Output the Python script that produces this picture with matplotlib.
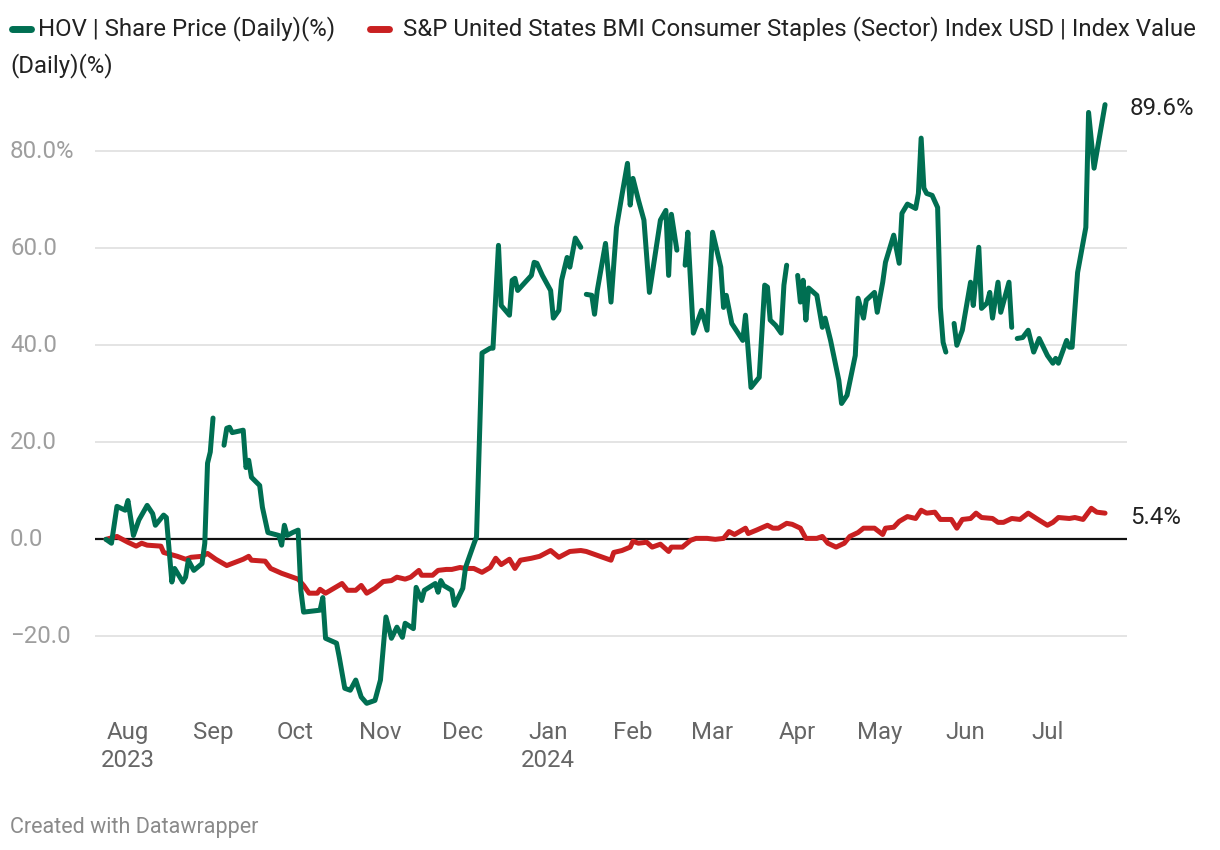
import numpy as np
import pandas as pd
import matplotlib
matplotlib.use("Agg")
import matplotlib.pyplot as plt
import matplotlib.transforms as mtransforms

plt.rcParams["font.family"] = ["Roboto", "DejaVu Sans"]

# Day offsets from 2023-08-01 and % change (nan = gap in the series)
hov_days = [-8, -6, -4, -1, 0, 2, 4, 7, 9, 10, 13, 14, 16, 17, 20, 21, 22, 24, 27, 28, 29, 30, 31,
            32, 35, 36, 37, 38, 42, 43, 44, 45, 48, 49, 51, 55, 56, 57, 58, 60, 62, 63, 64, 70, 71,
            72, 76, 77, 79, 81, 83, 85, 87, 90, 92, 94, 96, 98, 100, 101, 104, 105, 107, 108, 112,
            113, 114, 115, 118, 119, 122, 123, 126, 127, 129, 132, 133, 135, 136, 139, 140, 141, 142,
            147, 148, 149, 151, 154, 155, 157, 158, 160, 161, 163, 165,
            166, 167, 169, 170, 171, 174, 176, 178, 180, 182, 183, 184, 186, 188, 190, 194, 196, 197,
            198, 200,
            201, 203, 204, 206, 209, 211, 213, 216, 217, 218, 220, 224, 225, 227, 230, 232, 233, 234,
            236, 238, 239, 240,
            242, 244, 245, 246, 247, 248, 251, 253, 254, 256, 259, 260, 262, 265, 266, 268, 269, 272,
            273, 275, 276, 279, 281, 282, 284, 287, 288, 289, 290, 291, 293, 295, 296, 297, 298,
            299, 301, 302, 304, 307, 308, 310, 311, 313, 314, 315, 317, 318, 321, 322,
            323, 324, 326, 328, 330, 332, 335, 337, 338, 339, 342, 343, 344, 346, 349, 350, 352, 356]
hov_pct = [0.0, -0.8, 6.8, 6.0, 8.0, 0.8, 4.0, 7.0, 5.3, 2.9, 5.0, 4.5, -8.8, -6.0, -8.8, -7.8, -4.3,
           -6.4, -5.0, -0.8, 15.7, 18.0, 25.0,
           np.nan, 19.4, 22.9, 23.1, 22.0, 22.5, 14.8, 16.3, 12.8, 11.1, 6.6, 1.4, 0.8, -1.2, 2.9,
           0.8, 1.4, 1.9, -10.5, -15.0, -14.6, -12.0,
           -20.4, -21.4, -24.3, -30.7, -31.1, -29.0, -32.5, -33.8, -33.2, -29.0, -16.0, -20.4, -18.1,
           -20.2, -17.3, -18.4, -9.9, -12.6, -10.5, -9.1,
           -10.9, -8.5, -9.5, -10.5, -13.6, -10.1, -5.8, -1.0, 0.5, 38.4, 39.4, 39.4, 60.6, 48.2,
           46.2, 53.4, 53.8, 51.3,
           54.4, 57.1, 56.9, 54.4, 51.3, 45.6, 47.2, 53.4, 58.1, 56.1, 62.1, 60.2,
           np.nan, 50.5, 50.3, 46.4, 51.3, 61.0, 48.9, 64.3, 71.0, 77.5, 68.9, 74.4, 69.9, 65.8,
           50.9, 65.8, 67.8, 54.4,
           67.0, 59.6,
           np.nan, 56.5, 63.3, 42.5, 47.2, 43.1, 63.3, 56.1, 47.8, 50.3, 44.5, 41.0, 46.2, 31.3,
           33.4, 52.4, 52.0, 45.2,
           44.1, 42.5, 52.4, 56.5,
           np.nan, 54.4, 48.9, 53.4, 45.2, 51.8, 50.3, 43.7, 45.6, 41.0, 32.8, 28.0, 29.7, 37.9,
           49.7, 45.6, 49.3, 50.9,
           46.8, 53.0, 57.1, 62.7, 56.9, 67.2, 69.1, 68.2, 71.3, 82.7, 72.4, 71.3, 70.9, 68.4, 47.8,
           40.6, 38.6,
           np.nan, 44.5, 40.0, 43.1, 53.0, 48.2, 60.2, 47.6, 48.7, 50.9, 45.6, 53.0, 46.8, 53.0, 43.7,
           np.nan, 41.4, 41.6, 43.1, 38.6, 41.4, 37.9, 36.3, 37.3, 36.3, 41.0, 39.6, 39.6, 55.0,
           64.3, 88.0, 76.5, 89.6]

sp_days = [-8, -4, 0, 3, 5, 7, 12, 13, 18, 21, 23, 27, 29, 32, 36, 42, 44, 45, 50, 52, 56, 58, 62,
           64, 66, 69, 70, 72, 75, 78, 80, 83, 85, 87, 90, 93, 96, 98, 101, 103, 106, 107, 111, 113,
           116, 118, 121, 123, 126, 129, 132, 134, 136, 139, 141, 143, 147, 150, 154, 157, 161, 165,
           167, 171, 174, 176, 177, 180, 183, 184, 186, 189, 191, 194, 197, 198, 202, 205, 207, 211,
           214, 217, 219, 221, 225, 226, 229, 233, 235, 237, 240, 242, 245, 247, 251, 253, 255, 258,
           261, 263, 266, 268, 272, 275, 276, 279, 281, 284, 287, 289, 291, 294, 296, 300, 302, 304,
           307, 309, 311, 315, 317, 319, 322, 325, 328, 331, 335, 337, 339, 343, 345, 348, 351, 353,
           356]
sp_pct = [0.0, 0.6, -0.6, -1.4, -0.8, -1.2, -1.4, -2.7, -3.5, -4.1, -3.7, -3.5, -2.9, -4.1, -5.4,
          -4.1, -3.5, -4.3, -4.5, -6.0, -7.0, -7.4, -8.2, -9.5, -11.1, -11.1, -10.3, -11.1, -10.1,
          -9.1, -10.5, -10.5, -9.5, -11.1, -10.1, -8.7, -8.5, -7.8, -8.2, -7.8, -6.4, -7.4, -7.4,
          -6.4, -6.2, -6.2, -5.8, -6.0, -6.0, -6.8, -5.8, -3.9, -5.2, -4.1, -6.0, -4.3, -3.9, -3.5,
          -2.3, -3.7, -2.5, -2.3, -2.5, -3.3, -3.9, -4.3, -2.7, -2.3, -1.6, -0.4, -0.8, -0.6, -1.6,
          -1.0, -2.5, -1.6, -1.6, -0.2, 0.2, 0.2, 0.0, 0.2, 1.6, 1.0, 2.3, 1.2, 1.9, 2.9, 2.3, 2.3,
          3.3, 3.1, 2.3, 0.2, 0.2, 0.6, -0.8, -1.6, -0.8, 0.6, 1.4, 2.3, 2.3, 1.0, 2.3, 2.5, 3.7,
          4.7, 4.3, 6.0, 5.4, 5.6, 4.1, 4.1, 2.3, 4.1, 4.3, 5.4, 4.5, 4.3, 3.5, 3.5, 4.3, 4.1, 5.4,
          4.3, 2.9, 3.5, 4.5, 4.3, 4.5, 4.1, 6.4, 5.6, 5.4]

y_ticks = [-20, 0, 20, 40, 60, 80]
y_labels = ["\u221220.0", "0.0", "20.0", "40.0", "60.0", "80.0%"]
month_starts = pd.date_range("2023-08-01", "2024-07-01", freq="MS")
month_labels = ["Aug\n2023", "Sep", "Oct", "Nov", "Dec", "Jan\n2024", "Feb", "Mar", "Apr", "May",
                "Jun", "Jul"]

base = pd.Timestamp("2023-08-01")
hov_dates = base + pd.to_timedelta(hov_days, unit="D")
sp_dates = base + pd.to_timedelta(sp_days, unit="D")

green = "#006f52"
red = "#c92021"
fs = 17.3

fig = plt.figure(figsize=(12.2, 8.5), dpi=100)
ax = fig.add_axes([95 / 1220, 1 - 714 / 850, (1127 - 95) / 1220, (714 - 93) / 850])

for t in y_ticks:
    if t == 0:
        ax.axhline(0, color="#111111", lw=1.6, zorder=2)
    else:
        ax.axhline(t, color="#e2e2e2", lw=1.3, zorder=1)

ax.plot(sp_dates, sp_pct, color=red, lw=3.6, solid_capstyle="round", zorder=3)
ax.plot(hov_dates, hov_pct, color=green, lw=3.6, solid_capstyle="round", zorder=4)

ax.set_xlim(base - pd.Timedelta(days=12), base + pd.Timedelta(days=364))
ax.set_ylim(-36, 92)
for s in ax.spines.values():
    s.set_visible(False)
ax.set_yticks([])
ax.set_xticks(month_starts)
ax.set_xticklabels(month_labels, fontsize=fs, color="#666666", linespacing=1.3)
ax.tick_params(axis="x", length=0, pad=5)

trans = mtransforms.blended_transform_factory(fig.transFigure, ax.transData)
for t, lab in zip(y_ticks, y_labels):
    ax.text(10 / 1220, t, lab, transform=trans, ha="left", va="center", fontsize=fs,
            color="#9e9e9e")

ax.text(base + pd.Timedelta(days=365), hov_pct[-1] - 0.8, "89.6%", ha="left", va="center",
        fontsize=fs, color="#222222")
ax.text(base + pd.Timedelta(days=365), sp_pct[-1] - 0.9, "5.4%", ha="left", va="center",
        fontsize=fs, color="#222222")

# legend
fig.add_artist(plt.Line2D([12 / 1220, 31 / 1220], [1 - 29 / 850] * 2, color=green, lw=5,
                          solid_capstyle="round"))
fig.text(38 / 1220, 1 - 29 / 850, "HOV | Share Price (Daily)(%)", ha="left", va="center",
         fontsize=fs, color="#222222")
fig.add_artist(plt.Line2D([370 / 1220, 389 / 1220], [1 - 29 / 850] * 2, color=red, lw=5,
                          solid_capstyle="round"))
fig.text(403 / 1220, 1 - 29 / 850,
         "S&P United States BMI Consumer Staples (Sector) Index USD | Index Value",
         ha="left", va="center", fontsize=fs, color="#222222")
fig.text(10 / 1220, 1 - 66 / 850, "(Daily)(%)", ha="left", va="center", fontsize=fs,
         color="#222222")

fig.text(10 / 1220, 1 - 827 / 850, "Created with Datawrapper", ha="left", va="center",
         fontsize=15.5, color="#8a8a8a")

fig.savefig("out.png", dpi=100)
